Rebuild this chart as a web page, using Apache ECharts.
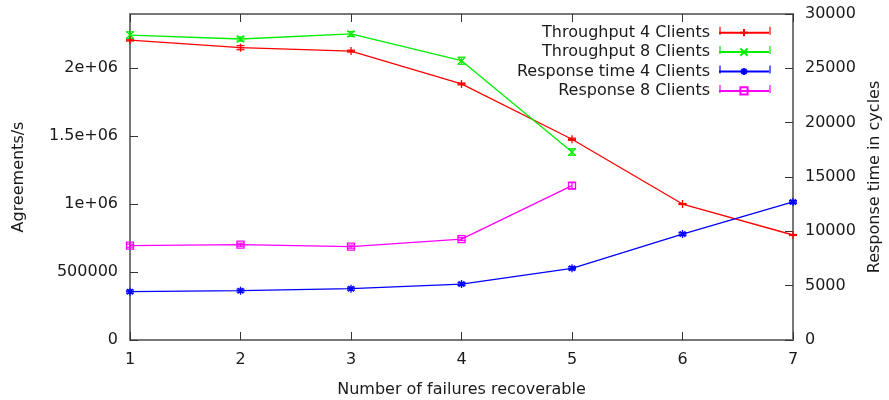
<!DOCTYPE html>
<html>
<head>
<meta charset="utf-8">
<script src="https://cdn.jsdelivr.net/npm/echarts@6/dist/echarts.min.js"></script>
<style>
  html, body { margin: 0; padding: 0; background: #fff; }
  #chart { width: 889px; height: 400px; }
</style>
</head>
<body>
<div id="chart"></div>
<script>
// Failures recoverable (x axis)
const failures = [1, 2, 3, 4, 5, 6, 7];

// Throughput (agreements/s), left axis
const throughput4 = [2208000, 2152000, 2127000, 1885000, 1478000, 1001000, 773000];
const throughput4Err = [7000, 15000, 7000, 7000, 8000, 4000, 4000];
const throughput8 = [2245000, 2216000, 2253000, 2056000, 1384000];
const throughput8Err = [24000, 15000, 18000, 26000, 24000];

// Response time (cycles), right axis
const response4 = [4450, 4540, 4720, 5150, 6600, 9750, 12700];
const response4Err = [140, 140, 140, 140, 140, 140, 140];
const response8 = [8680, 8770, 8590, 9290, 14200];
const response8Err = [140, 140, 140, 140, 280];

// Tick labels of the left axis
const leftTicks = [0, 500000, 1000000, 1500000, 2000000];
const leftTickLabels = ['0', '500000', '1e+06', '1.5e+06', '2e+06'];

const seriesNames = ['Throughput 4 Clients', 'Throughput 8 Clients', 'Response time 4 Clients', 'Response 8 Clients'];
const seriesColors = ['#ff0000', '#00ee00', '#0000ff', '#ff00ff'];

const FONT = 'DejaVu Sans';
const TEXT = '#1a1a1a';
const BORDER = '#777777';

const pairs = (vals) => vals.map((v, i) => [failures[i], v]);
const errTriples = (vals, errs) => vals.map((v, i) => [failures[i], v, errs[i]]);

const SYM_PLUS = 'path://M0,5L10,5M5,0L5,10';
const SYM_CROSS = 'path://M0,0L10,10M10,0L0,10';
const SYM_STAR = 'path://M0,5L10,5M5,0L5,10M1.5,1.5L8.5,8.5M8.5,1.5L1.5,8.5';
const SYM_SQUARE = 'path://M0,0L10,0L10,10L0,10Z';

function lineSeries(name, data, color, symbol, size, yAxisIndex) {
  return {
    name: name,
    type: 'line',
    data: pairs(data),
    yAxisIndex: yAxisIndex,
    symbol: symbol,
    symbolSize: size,
    showAllSymbol: true,
    itemStyle: { color: 'rgba(255,255,255,0)', borderColor: color, borderWidth: 1.3 },
    lineStyle: { color: color, width: 1.3 },
    emphasis: { disabled: true },
    animation: false,
    z: 3
  };
}

function errorSeries(data, errs, color, yAxisIndex) {
  return {
    type: 'custom',
    yAxisIndex: yAxisIndex,
    data: errTriples(data, errs),
    animation: false,
    silent: true,
    z: 2,
    renderItem: function (params, api) {
      const x = api.value(0), y = api.value(1), e = api.value(2);
      const hi = api.coord([x, y + e]);
      const lo = api.coord([x, y - e]);
      const w = 4;
      const style = { stroke: color, lineWidth: 1.2 };
      return {
        type: 'group',
        children: [
          { type: 'line', shape: { x1: hi[0], y1: hi[1], x2: lo[0], y2: lo[1] }, style: style },
          { type: 'line', shape: { x1: hi[0] - w, y1: hi[1], x2: hi[0] + w, y2: hi[1] }, style: style },
          { type: 'line', shape: { x1: lo[0] - w, y1: lo[1], x2: lo[0] + w, y2: lo[1] }, style: style }
        ]
      };
    }
  };
}

// Legend block geometry (samples span LEGEND_LEFT..LEGEND_RIGHT)
const LEGEND_LEFT = 720, LEGEND_RIGHT = 770, LEGEND_TOP = 30.7, LEGEND_STEP = 19.4;
const LEGEND_PAD = 5;

// End caps on the legend samples (error-bar style keys)
const legendCaps = [];
seriesColors.forEach(function (c, i) {
  const y = LEGEND_TOP + i * LEGEND_STEP;
  [LEGEND_LEFT, LEGEND_RIGHT].forEach(function (x) {
    legendCaps.push({
      type: 'line', silent: true, z: 10,
      shape: { x1: x, y1: y - 4, x2: x, y2: y + 4 },
      style: { stroke: c, lineWidth: 1.2 }
    });
  });
});

const chart = echarts.init(document.getElementById('chart'), null, { renderer: 'canvas' });

chart.setOption({
  animation: false,
  backgroundColor: '#ffffff',
  textStyle: { fontFamily: FONT, color: TEXT },
  grid: { left: 130, right: 96, top: 14, bottom: 60, containLabel: false, outerBoundsMode: 'none' },
  legend: {
    data: seriesNames,
    orient: 'vertical',
    right: 889 - LEGEND_RIGHT - LEGEND_PAD,
    top: LEGEND_TOP - 11,
    padding: LEGEND_PAD,
    align: 'right',
    itemWidth: LEGEND_RIGHT - LEGEND_LEFT,
    itemHeight: 9,
    itemGap: 3.4,
    selectedMode: false,
    textStyle: { fontFamily: FONT, fontSize: 16, color: TEXT, lineHeight: 16, padding: [0, 4, 0, 0] }
  },
  graphic: legendCaps,
  xAxis: [
    {
      type: 'value', min: 1, max: 7, interval: 1, position: 'bottom',
      name: 'Number of failures recoverable', nameLocation: 'middle', nameGap: 42,
      nameTextStyle: { fontFamily: FONT, fontSize: 16, color: TEXT },
      axisLine: { show: true, onZero: false, lineStyle: { color: BORDER, width: 2 } },
      axisTick: { show: true, inside: true, length: 8, lineStyle: { color: '#333', width: 1 } },
      axisLabel: { fontFamily: FONT, fontSize: 16, color: TEXT, margin: 12, formatter: (v) => String(v) },
      splitLine: { show: false }
    },
    {
      type: 'value', min: 1, max: 7, interval: 1, position: 'top',
      axisLine: { show: true, onZero: false, lineStyle: { color: BORDER, width: 2 } },
      axisTick: { show: true, inside: true, length: 8, lineStyle: { color: '#333', width: 1 } },
      axisLabel: { show: false },
      splitLine: { show: false }
    }
  ],
  yAxis: [
    {
      type: 'value', min: 0, max: 2400000, interval: 500000, position: 'left',
      name: 'Agreements/s', nameLocation: 'middle', nameGap: 103,
      nameTextStyle: { fontFamily: FONT, fontSize: 16, color: TEXT },
      axisLine: { show: true, onZero: false, lineStyle: { color: BORDER, width: 2 } },
      axisTick: { show: true, inside: true, length: 8, lineStyle: { color: '#333', width: 1 } },
      axisLabel: {
        fontFamily: FONT, fontSize: 16, color: TEXT, margin: 12, showMaxLabel: false,
        formatter: function (v) {
          const i = leftTicks.indexOf(v);
          return i >= 0 ? leftTickLabels[i] : '';
        }
      },
      splitLine: { show: false }
    },
    {
      type: 'value', min: 0, max: 30000, interval: 5000, position: 'right',
      name: 'Response time in cycles', nameLocation: 'middle', nameGap: 74,
      nameTextStyle: { fontFamily: FONT, fontSize: 16, color: TEXT },
      axisLine: { show: true, onZero: false, lineStyle: { color: BORDER, width: 2 } },
      axisTick: { show: true, inside: true, length: 8, lineStyle: { color: '#333', width: 1 } },
      axisLabel: { fontFamily: FONT, fontSize: 16, color: TEXT, margin: 12, formatter: (v) => String(v) },
      splitLine: { show: false }
    }
  ],
  series: [
    errorSeries(throughput4, throughput4Err, seriesColors[0], 0),
    errorSeries(throughput8, throughput8Err, seriesColors[1], 0),
    errorSeries(response4, response4Err, seriesColors[2], 1),
    errorSeries(response8, response8Err, seriesColors[3], 1),
    lineSeries(seriesNames[0], throughput4, seriesColors[0], SYM_PLUS, 8, 0),
    lineSeries(seriesNames[1], throughput8, seriesColors[1], SYM_CROSS, 7, 0),
    lineSeries(seriesNames[2], response4, seriesColors[2], SYM_STAR, 8, 1),
    lineSeries(seriesNames[3], response8, seriesColors[3], SYM_SQUARE, 7, 1)
  ]
});
</script>
</body>
</html>
